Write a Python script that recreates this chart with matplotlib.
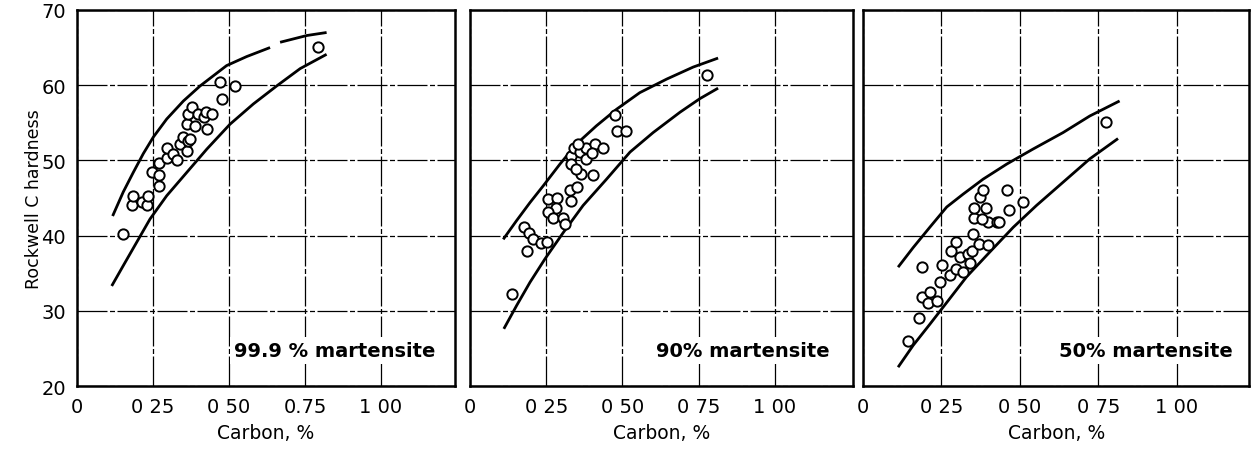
import numpy as np
import matplotlib
matplotlib.use("Agg")
import matplotlib.pyplot as plt

# panel 1: 99.9 % martensite
c1 = [0.15, 0.182, 0.185, 0.213, 0.229, 0.235, 0.246, 0.271, 0.271, 0.271, 0.295, 0.297,
      0.317, 0.328, 0.339, 0.350, 0.361, 0.366, 0.361, 0.366, 0.372, 0.377, 0.388, 0.399,
      0.418, 0.424, 0.427, 0.443, 0.470, 0.478, 0.520, 0.794]
h1 = [40.2, 44.1, 45.2, 44.5, 44.0, 45.2, 48.4, 48.1, 46.6, 49.7, 50.3, 51.7,
      50.9, 50.0, 52.2, 53.1, 51.3, 52.6, 54.8, 56.2, 52.8, 57.1, 54.6, 56.2,
      55.7, 56.4, 54.2, 56.2, 60.4, 58.2, 59.9, 65.1]
# upper band edge has a small break near 0.65 % C
up1_x = [0.117, 0.152, 0.185, 0.218, 0.251, 0.295, 0.350, 0.405, 0.492, 0.558, 0.635]
up1_y = [42.6, 45.8, 48.4, 50.9, 53.1, 55.5, 57.9, 59.9, 62.6, 63.8, 65.0]
up1b_x = [0.668, 0.756, 0.821]
up1b_y = [65.7, 66.6, 67.0]
lo1_x = [0.114, 0.152, 0.196, 0.240, 0.295, 0.361, 0.427, 0.503, 0.580, 0.657, 0.734, 0.821]
lo1_y = [33.3, 36.0, 39.1, 42.2, 45.3, 48.4, 51.5, 54.8, 57.5, 59.9, 62.2, 64.1]

# panel 2: 90 % martensite
c2 = [0.139, 0.177, 0.194, 0.208, 0.232, 0.251, 0.188, 0.257, 0.286, 0.282, 0.257, 0.273,
      0.306, 0.311, 0.328, 0.352, 0.333, 0.330, 0.333, 0.341, 0.361, 0.380, 0.355, 0.410,
      0.435, 0.380, 0.363, 0.402, 0.348, 0.399, 0.475, 0.481, 0.511, 0.776]
h2 = [32.2, 41.1, 40.3, 39.5, 39.0, 39.2, 38.0, 44.9, 45.0, 43.7, 43.1, 42.4,
      42.4, 41.5, 46.0, 46.4, 44.6, 50.6, 49.5, 51.6, 51.1, 51.7, 52.2, 52.2,
      51.6, 50.2, 48.2, 48.0, 48.9, 51.0, 56.0, 53.9, 53.9, 61.3]
up2_x = [0.109, 0.153, 0.197, 0.240, 0.295, 0.350, 0.415, 0.481, 0.557, 0.645, 0.732, 0.814]
up2_y = [39.5, 42.0, 44.4, 46.6, 49.5, 52.2, 54.6, 56.8, 59.0, 60.8, 62.4, 63.6]
lo2_x = [0.111, 0.153, 0.197, 0.246, 0.306, 0.371, 0.448, 0.525, 0.601, 0.689, 0.754, 0.814]
lo2_y = [27.6, 30.7, 33.8, 36.9, 40.4, 44.0, 47.5, 51.1, 53.7, 56.4, 58.2, 59.6]

# panel 3: 50 % martensite
c3 = [0.144, 0.179, 0.187, 0.187, 0.213, 0.208, 0.235, 0.245, 0.251, 0.277, 0.296, 0.282,
      0.296, 0.309, 0.319, 0.335, 0.341, 0.349, 0.351, 0.370, 0.399, 0.354, 0.354, 0.373,
      0.383, 0.392, 0.399, 0.426, 0.434, 0.378, 0.458, 0.466, 0.509, 0.776]
h3 = [26.0, 29.1, 35.8, 31.8, 32.5, 31.1, 31.3, 33.8, 36.1, 34.7, 35.6, 38.0,
      39.1, 37.1, 35.1, 37.6, 36.4, 38.0, 40.2, 38.9, 38.8, 42.4, 43.7, 45.1,
      46.0, 43.7, 41.8, 41.8, 41.8, 42.2, 46.1, 43.4, 44.4, 55.1]
up3_x = [0.112, 0.160, 0.213, 0.267, 0.319, 0.383, 0.458, 0.542, 0.638, 0.723, 0.818]
up3_y = [35.8, 38.4, 41.1, 43.8, 45.5, 47.5, 49.5, 51.5, 53.7, 55.9, 57.9]
lo3_x = [0.112, 0.160, 0.213, 0.267, 0.330, 0.404, 0.479, 0.553, 0.638, 0.723, 0.813]
lo3_y = [22.5, 25.4, 28.2, 31.1, 34.5, 37.8, 41.1, 44.0, 47.1, 50.2, 52.9]

xticks = [0, 0.25, 0.5, 0.75, 1.0]
xlabels1 = ["0", "0 25", "0 50", "0.75", "1 00"]
xlabels23 = ["0", "0 25", "0 50", "0 75", "1 00"]
yticks = [20, 30, 40, 50, 60, 70]
titles = ["99.9 % martensite", "90% martensite", "50% martensite"]

fig = plt.figure(figsize=(12.51, 4.52), dpi=100)
rects = [[0.0616, 0.1438, 0.302, 0.832],
         [0.3757, 0.1438, 0.306, 0.832],
         [0.6898, 0.1438, 0.309, 0.832]]
xmax = [1.243, 1.256, 1.232]

panels = [
    (c1, h1, [(up1_x, up1_y), (up1b_x, up1b_y), (lo1_x, lo1_y)], xlabels1),
    (c2, h2, [(up2_x, up2_y), (lo2_x, lo2_y)], xlabels23),
    (c3, h3, [(up3_x, up3_y), (lo3_x, lo3_y)], xlabels23),
]

for i, (cx, hy, curves, xl) in enumerate(panels):
    ax = fig.add_axes(rects[i])
    ax.set_xlim(0, xmax[i])
    ax.set_ylim(20, 70)
    ax.set_xticks(xticks)
    ax.set_xticklabels(xl, fontsize=14)
    ax.set_yticks(yticks)
    if i == 0:
        ax.set_yticklabels([str(v) for v in yticks], fontsize=14)
        ax.set_ylabel("Rockwell C hardness", fontsize=12.5, labelpad=-1)
    else:
        ax.set_yticklabels([])
    ax.tick_params(length=0, pad=8)
    ax.grid(True, color="black", linewidth=0.9, linestyle=(0, (24, 2, 4, 2)))
    ax.set_axisbelow(True)
    for s in ax.spines.values():
        s.set_linewidth(1.8)
        s.set_color("black")
    for xs, ys in curves:
        ax.plot(xs, ys, color="black", linewidth=2.0, solid_capstyle="butt",
                solid_joinstyle="round")
    ax.scatter(cx, hy, s=55, facecolors="white", edgecolors="black",
               linewidths=1.4, zorder=3)
    ax.set_xlabel("Carbon, %", fontsize=13.5, labelpad=5)
    ax.text(1.18, 24.7, titles[i], fontsize=14, fontweight="bold",
            ha="right", va="center",
            bbox=dict(facecolor="white", edgecolor="none", pad=3), zorder=4)

fig.savefig("out.png", dpi=100)
